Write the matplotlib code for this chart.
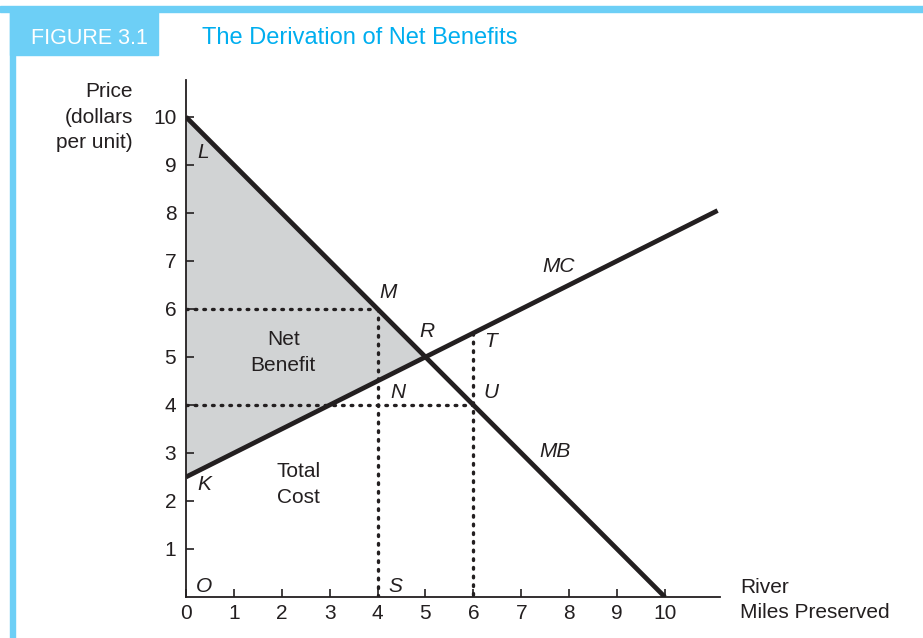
import numpy as np
import matplotlib
matplotlib.use("Agg")
import matplotlib.pyplot as plt
from matplotlib.patches import Rectangle

plt.rcParams['font.family'] = ['Liberation Sans', 'DejaVu Sans']

# Dati
x_ticks = [0, 1, 2, 3, 4, 5, 6, 7, 8, 9, 10]
y_ticks = [1, 2, 3, 4, 5, 6, 7, 8, 9, 10]
mb_x = [0, 10]
mb_y = [10, 0]
mc_x = [0, 11.1]
mc_y = [2.5, 8.05]
q_small, p_mb_small, p_mc_small = 4, 6, 4.5
q_big, p_mb_big, p_mc_big = 6, 4, 5.5
q_eq, p_eq = 5, 5

punti = {"L": (0.35, 9.27), "M": (4.22, 6.35), "R": (5.03, 5.54), "T": (6.35, 5.33),
         "N": (4.43, 4.27), "U": (6.37, 4.27), "MC": (7.77, 6.88), "MB": (7.70, 3.04),
         "K": (0.38, 2.35), "O": (0.38, 0.21), "S": (4.38, 0.21)}

ciano = "#6dcff6"
ciano_testo = "#00aeef"
nero = "#231f20"
fs = 15
ls = 1.45

fig = plt.figure(figsize=(9.23, 6.38), dpi=100)

# Intestazione
fig.patches.append(Rectangle((0, 1 - 12 / 638), 1, 6 / 638, transform=fig.transFigure,
                             color=ciano, zorder=0))
fig.patches.append(Rectangle((10 / 923, 1 - 55 / 638), 148 / 923, 43 / 638,
                             transform=fig.transFigure, color=ciano, zorder=0))
fig.patches.append(Rectangle((10 / 923, 0), 5 / 923, 1 - 12 / 638,
                             transform=fig.transFigure, color=ciano, zorder=0))
fig.text(31 / 923, 1 - 38 / 638, "FIGURE 3.1", color="white", fontsize=15.5,
         va="center", ha="left")
fig.text(202 / 923, 1 - 38 / 638, "The Derivation of Net Benefits", color=ciano_testo,
         fontsize=17, va="center", ha="left")

ax = fig.add_axes([186 / 923, 41 / 638, 534 / 923, 517 / 638])
ax.set_xlim(0, 11.15)
ax.set_ylim(0, 10.77)
for s in ["top", "right"]:
    ax.spines[s].set_visible(False)
for s in ["left", "bottom"]:
    ax.spines[s].set_linewidth(1.3)
    ax.spines[s].set_color(nero)
ax.set_xticks(x_ticks)
ax.set_yticks(y_ticks)
ax.tick_params(direction="in", length=6, width=1.2, labelsize=15, colors=nero)
ax.tick_params(axis="x", pad=5)
ax.tick_params(axis="y", pad=7)
ax.patch.set_alpha(0)

# Area net benefit
ax.fill([0, q_eq, 0], [10, p_eq, 2.5], color="#d1d3d4", zorder=1, lw=0)

ax.plot(mb_x, mb_y, color=nero, lw=3.4, zorder=3, solid_capstyle="butt")
ax.plot(mc_x, mc_y, color=nero, lw=3.4, zorder=3, solid_capstyle="butt")

stile = dict(color=nero, lw=2.4, linestyle=(0, (0.5, 2.1)),
             dash_capstyle="round", zorder=2)
ax.plot([0, q_small], [p_mb_small, p_mb_small], **stile)
ax.plot([q_small, q_small], [p_mb_small, 0], **stile)
ax.plot([0, q_big], [p_mb_big, p_mb_big], **stile)
ax.plot([q_big, q_big], [p_mc_big, 0], **stile)

for nome, (px, py) in punti.items():
    ax.text(px, py, nome, fontsize=fs, style="italic", ha="center", va="center",
            color=nero)

ax.text(2.03, 5.1, "Net\nBenefit", fontsize=fs, ha="center", va="center",
        color=nero, linespacing=ls)
ax.text(2.34, 2.35, "Total\nCost", fontsize=fs, ha="center", va="center",
        color=nero, linespacing=ls)

fig.text(133 / 923, 1 - 82 / 638, "Price\n(dollars\nper unit)", fontsize=fs,
         ha="right", va="top", color=nero, linespacing=ls)
fig.text(740 / 923, 1 - 600 / 638, "River\nMiles Preserved", fontsize=fs,
         ha="left", va="center", color=nero, linespacing=1.4)

plt.savefig("out.png", dpi=100)
